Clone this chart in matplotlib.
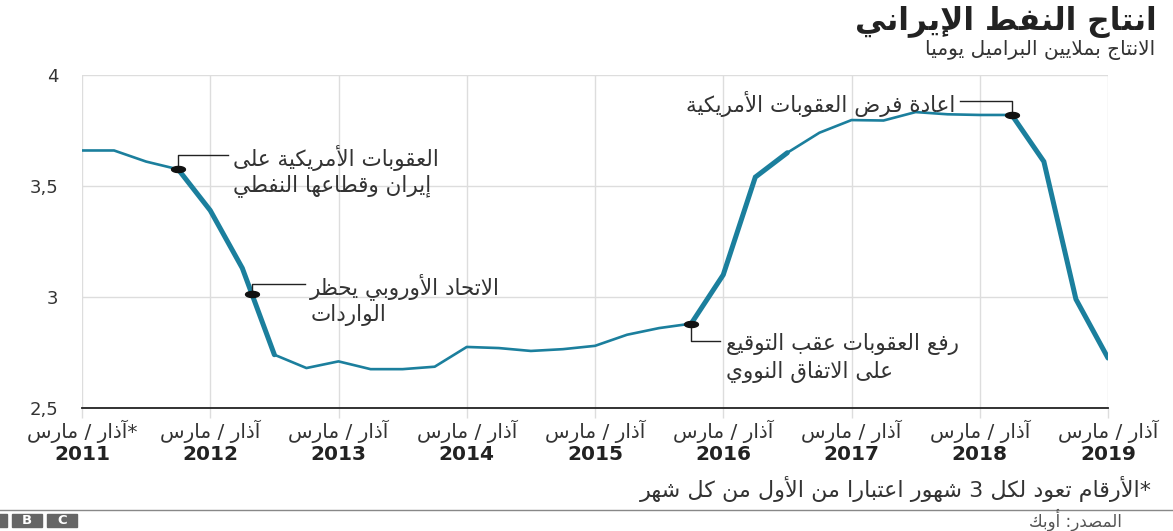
import numpy as np
import matplotlib
matplotlib.use("Agg")
import matplotlib.pyplot as plt
from matplotlib.patches import Rectangle

# quarterly production, million barrels per day (Mar/Jun/Sep/Dec)
years = np.arange(2011, 2020)
quarter_x = 2011 + np.arange(33) / 4
production = [3.66, 3.66, 3.61, 3.575, 3.39, 3.13, 2.74, 2.68, 2.71, 2.675, 2.675,
              2.686, 2.775, 2.77, 2.757, 2.765, 2.78, 2.83, 2.86, 2.88, 3.10, 3.54,
              3.65, 3.74, 3.797, 3.795, 3.833, 3.823, 3.82, 3.82, 3.61, 2.99, 2.725]
# stretches drawn heavy (sanctions / post-deal surge)
heavy_spans = [(3, 6), (19, 22), (29, 32)]

title = "انتاج النفط الإيراني"
subtitle = "الانتاج بملايين البراميل يوميا"
month_labels = ["*آذار / مارس"] + ["آذار / مارس"] * 8
footnote = "*الأرقام تعود لكل 3 شهور اعتبارا من الأول من كل شهر"
source = "المصدر: أوبك"

# events: (x position, elbow y, line end x, text x, text lines, side)
events = [
    (2011.75, 3.64, 2012.14, 2012.18, ["العقوبات الأمريكية على", "إيران وقطاعها النفطي"], "left"),
    (2012.325, 3.059, 2012.74, 2012.78, ["الاتحاد الأوروبي يحظر", "الواردات"], "left"),
    (2015.75, 2.80, 2015.975, 2016.02, ["رفع العقوبات عقب التوقيع", "على الاتفاق النووي"], "left"),
    (2018.25, 3.883, 2017.846, 2017.807, ["اعادة فرض العقوبات الأمريكية"], "right"),
]

# --- minimal Arabic shaping: contextual forms + right-to-left order ---
_base = {
    "ء": (0xFE80, 1), "آ": (0xFE81, 2), "أ": (0xFE83, 2), "ؤ": (0xFE85, 2),
    "إ": (0xFE87, 2), "ئ": (0xFE89, 4), "ا": (0xFE8D, 2), "ب": (0xFE8F, 4),
    "ة": (0xFE93, 2), "ت": (0xFE95, 4), "ث": (0xFE99, 4), "ج": (0xFE9D, 4),
    "ح": (0xFEA1, 4), "خ": (0xFEA5, 4), "د": (0xFEA9, 2), "ذ": (0xFEAB, 2),
    "ر": (0xFEAD, 2), "ز": (0xFEAF, 2), "س": (0xFEB1, 4), "ش": (0xFEB5, 4),
    "ص": (0xFEB9, 4), "ض": (0xFEBD, 4), "ط": (0xFEC1, 4), "ظ": (0xFEC5, 4),
    "ع": (0xFEC9, 4), "غ": (0xFECD, 4), "ف": (0xFED1, 4), "ق": (0xFED5, 4),
    "ك": (0xFED9, 4), "ل": (0xFEDD, 4), "م": (0xFEE1, 4), "ن": (0xFEE5, 4),
    "ه": (0xFEE9, 4), "و": (0xFEED, 2), "ى": (0xFEEF, 2), "ي": (0xFEF1, 4),
    "لآ": (0xFEF5, 2), "لأ": (0xFEF7, 2), "لإ": (0xFEF9, 2), "لا": (0xFEFB, 2),
}


def _shape_line(text):
    toks = []
    i = 0
    while i < len(text):
        if text[i] == "ل" and text[i:i + 2] in _base:
            toks.append(text[i:i + 2])
            i += 2
        else:
            toks.append(text[i])
            i += 1
    out = []
    for i, t in enumerate(toks):
        if t not in _base:
            out.append(t)
            continue
        start, n = _base[t]
        prev = _base.get(toks[i - 1]) if i > 0 else None
        nxt = _base.get(toks[i + 1]) if i + 1 < len(toks) else None
        jp = prev is not None and prev[1] == 4 and n > 1
        jn = n == 4 and nxt is not None
        if jp and jn:
            code = start + 3
        elif jp:
            code = start + 1
        elif jn:
            code = start + 2
        else:
            code = start
        out.append(chr(code))
    return "".join(reversed(out))


def ar(text):
    return "\n".join(_shape_line(s) for s in text.split("\n"))


W, H = 1173, 531
fig = plt.figure(figsize=(W / 100, H / 100), dpi=100)
plt.rcParams["font.family"] = ["DejaVu Sans"]


def px(x, y):
    return x / W, 1 - y / H


ax = fig.add_axes([82 / W, 1 - 408 / H, (1108 - 82) / W, (408 - 75) / H])
ax.set_xlim(2011, 2019)
ax.set_ylim(2.5, 4)

teal = "#1b7f9d"
ax.plot(quarter_x, production, color=teal, lw=1.9, solid_capstyle="butt", zorder=3)
for a, b in heavy_spans:
    ax.plot(quarter_x[a:b + 1], production[a:b + 1], color=teal, lw=3.6,
            solid_joinstyle="miter", solid_capstyle="round", zorder=3)

ax.set_xticks(years)
ax.set_yticks([2.5, 3, 3.5, 4])
ax.set_yticklabels(["2,5", "3", "3,5", "4"], fontsize=13, color="#333333")
ax.set_xticklabels([])
ax.grid(True, color="#dddddd", lw=1)
ax.set_axisbelow(True)
for side in ["top", "right", "left"]:
    ax.spines[side].set_visible(False)
ax.spines["bottom"].set_color("#222222")
ax.spines["bottom"].set_linewidth(1.3)
ax.tick_params(axis="x", length=7, color="#dddddd", width=1)
ax.tick_params(axis="y", length=0, pad=17)

# event markers with elbow callouts
t = np.linspace(0, 2 * np.pi, 40)
ell = np.column_stack([1.6 * np.cos(t), 0.7 * np.sin(t)])
for xm, ye, xe, xt, lines, side in events:
    ym = np.interp(xm, quarter_x, production)
    ax.plot([xm, xm, xe], [ym, ye, ye], color="#222222", lw=1, zorder=4)
    ax.plot([xm], [ym], marker=ell, ms=10, color="#111111", zorder=5)
    ha = "left" if side == "left" else "right"
    dy = 0.0
    for line in lines:
        ax.text(xt, ye - 0.012 - dy, ar(line), ha=ha, va="center", fontsize=15.5,
                color="#333333", zorder=6)
        dy += 0.126

# month / year labels under each year tick
for yr, lab in zip(years, month_labels):
    ax.text(yr, -0.07, ar(lab), transform=ax.get_xaxis_transform(),
            ha="center", va="center", fontsize=14.5, color="#333333")
    ax.text(yr, -0.14, str(yr), transform=ax.get_xaxis_transform(),
            ha="center", va="center", fontsize=14.5, fontweight="bold", color="#222222")

fig.text(*px(1157, 22), ar(title), ha="right", va="center", fontsize=22.5,
         fontweight="bold", color="#222222")
fig.text(*px(1155, 50), ar(subtitle), ha="right", va="center", fontsize=14.5,
         color="#333333")
fig.text(*px(1152, 489), ar(footnote), ha="right", va="center", fontsize=16,
         color="#333333")
fig.text(*px(1122, 520), ar(source), ha="right", va="center", fontsize=12,
         color="#555555")

# footer rule and BBC blocks (first block runs off the left edge)
fig.add_artist(plt.Line2D([0, 1], [1 - 510 / H] * 2, color="#888888", lw=1))
for i, ch in enumerate("BBC"):
    x0 = -23 + i * 35
    fig.add_artist(Rectangle(px(x0, 527), 30 / W, 13 / H, color="#666666"))
    if x0 >= 0:
        fig.text(*px(x0 + 15, 520.5), ch, ha="center", va="center", fontsize=9.5,
                 fontweight="bold", color="white")

fig.savefig("out.png", dpi=100)
